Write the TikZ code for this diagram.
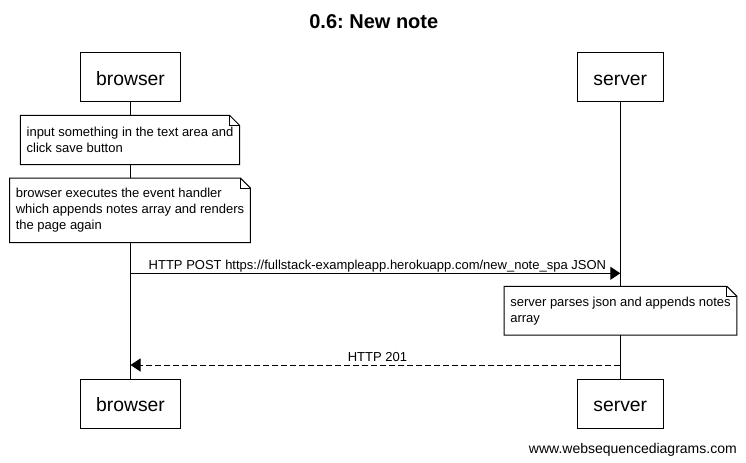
\documentclass[tikz,border=0pt]{standalone}
\usepackage{fontspec}
\setmainfont{Liberation Sans}
\usetikzlibrary{arrows.meta,calc}
\frenchspacing

% Outline of a note: rectangle with a folded top-right corner
\newcommand{\notefold}[1]{%
  \draw[noteline] (#1.south west) -- (#1.north west)
    -- ($(#1.north east)+(-10,0)$) -- ($(#1.north east)+(0,10)$)
    -- (#1.south east) -- cycle;
  \draw[noteline] ($(#1.north east)+(-10,0)$) -- ($(#1.north east)+(-10,10)$)
    -- ($(#1.north east)+(0,10)$);}

\begin{document}
\begin{tikzpicture}[x=0.75pt,y=-0.75pt,
  every node/.style={font=\fontsize{9.75pt}{12pt}\selectfont},
  actor/.style={draw, line width=0.75pt, font=\fontsize{14.5pt}{17pt}\selectfont,
    inner xsep=12pt, inner ysep=0pt, minimum height=36.75pt,
    text height=12pt, text depth=0pt},
  notebox/.style={fill=white, inner xsep=4.5pt, inner ysep=0pt, align=left},
  noteline/.style={line width=0.75pt},
  lifeline/.style={line width=0.75pt},
  msg/.style={line width=0.75pt, -{Triangle[length=7.5pt,width=9.75pt]}},
  reply/.style={msg, dash pattern=on 4.5pt off 2.25pt},
  msglabel/.style={inner sep=0pt, anchor=base},
]
\fill[white] (0,0) rectangle (746,463);
\useasboundingbox (0,0) rectangle (746,463);

% title
\node[font=\bfseries\fontsize{15pt}{18pt}\selectfont, inner sep=0pt, anchor=base]
  (title) at (373.8,28.3) {0.6: New note};

% participants
\node[actor] (btop) at (130.5,77.5) {browser};
\node[actor] (stop) at (620.3,77.5) {server};
\node[actor] (bbot) at (130.5,403.8) {browser};
\node[actor] (sbot) at (620.3,403.8) {server};

% lifelines
\draw[lifeline] (btop) -- (bbot);
\draw[lifeline] (stop) -- (sbot);

% notes over the browser
\node[notebox, minimum height=36.5pt] (n1) at (130,140)
  {input something in the text area and\\click save button};
\notefold{n1}
\node[notebox, minimum height=48pt] (n2) at (130,210.3)
  {browser executes the event handler\\which appends notes array and renders\\the page again};
\notefold{n2}

% request
\coordinate (m1b) at (btop |- 0,273.3);
\coordinate (m1s) at (stop |- 0,273.3);
\draw[msg] (m1b) -- (m1s);
\node[msglabel] (l1) at ($(m1b)!0.5!(m1s)+(2,-3.5)$)
  {HTTP POST https://fullstack-exampleapp.herokuapp.com/new\_note\_spa JSON};

% note over the server
\node[notebox, minimum height=36.25pt] (n3) at (620.5,310.8)
  {server parses json and appends notes\\array};
\notefold{n3}

% response
\coordinate (m2b) at (btop |- 0,365);
\coordinate (m2s) at (stop |- 0,365);
\draw[reply] (m2s) -- (m2b);
\node[msglabel] (l2) at ($(m2b)!0.5!(m2s)+(2,-3.5)$) {HTTP 201};

% footer
\node[inner sep=0pt, anchor=base east, font=\fontsize{10.5pt}{12pt}\selectfont]
  (wsd) at (737,453) {www.websequencediagrams.com};
\end{tikzpicture}
\end{document}
